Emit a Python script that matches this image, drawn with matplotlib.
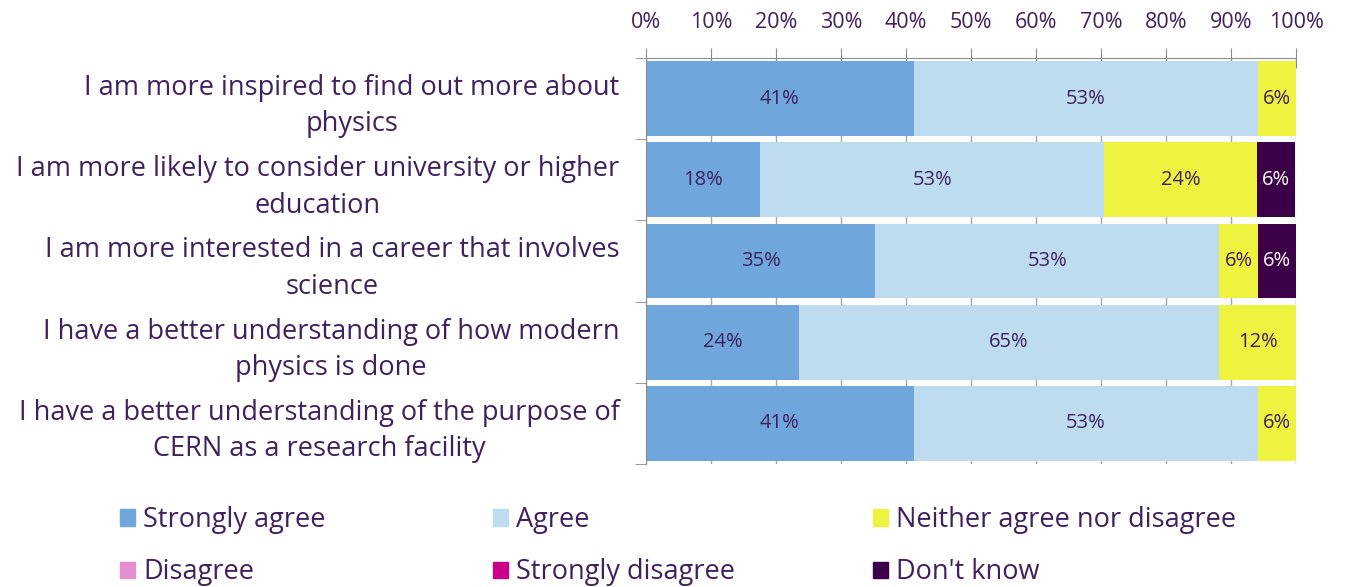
import matplotlib.pyplot as plt
import numpy as np
from matplotlib.patches import Patch

plt.rcParams['font.family'] = ['Open Sans', 'DejaVu Sans']

statements = [
    "I am more inspired to find out more about\nphysics",
    "I am more likely to consider university or higher\neducation",
    "I am more interested in a career that involves\nscience",
    "I have a better understanding of how modern\nphysics is done",
    "I have a better understanding of the purpose of\nCERN as a research facility",
]
series_names = ["Strongly agree", "Agree", "Neither agree nor disagree",
                "Disagree", "Strongly disagree", "Don't know"]
strongly_agree = [41.2, 17.6, 35.3, 23.5, 41.2]
agree = [52.9, 52.9, 52.9, 64.7, 52.9]
neither = [5.9, 23.5, 5.9, 11.8, 5.9]
disagree = [0, 0, 0, 0, 0]
strongly_disagree = [0, 0, 0, 0, 0]
dont_know = [0, 5.9, 5.9, 0, 0]
xticks = [0, 10, 20, 30, 40, 50, 60, 70, 80, 90, 100]

colors = ["#6fa6db", "#bddcf0", "#eef33f", "#e58fd0", "#c8008a", "#3b0048"]
text_col = "#40205e"
series = [strongly_agree, agree, neither, disagree, strongly_disagree, dont_know]

fig = plt.figure(figsize=(13.45, 5.87), dpi=100)
ax = fig.add_axes([646 / 1345, 1 - 464 / 587, 650 / 1345, 406 / 587])

y = np.arange(len(statements))
left = np.zeros(len(statements))
for name, vals, c in zip(series_names, series, colors):
    vals = np.array(vals, dtype=float)
    ax.barh(y, vals, left=left, height=0.92, color=c, zorder=2)
    for yi, (l, v) in enumerate(zip(left, vals)):
        if v > 0:
            tc = "white" if c == "#3b0048" else text_col
            ax.text(l + v / 2, yi, "%.0f%%" % v, ha="center", va="center",
                    fontsize=14.5, color=tc, zorder=3)
    left += vals

ax.set_xlim(0, 100)
ax.set_ylim(len(statements) - 0.5, -0.5)
ax.set_xticks(xticks)
ax.set_xticklabels(["%d%%" % t for t in xticks])
ax.xaxis.tick_top()
ax.tick_params(axis="x", direction="inout", length=14, color="#8c8c8c",
               labelsize=15.5, labelcolor=text_col, pad=11)
ax.grid(axis="x", color="#a6a6a6", lw=1, zorder=1)

ax.set_yticks(y)
ax.set_yticklabels(statements, multialignment="center", linespacing=1.4)
ax.set_yticks(np.arange(len(statements) + 1) - 0.5, minor=True)
ax.tick_params(axis="y", which="major", length=0, pad=19,
               labelsize=19.5, labelcolor=text_col)
ax.tick_params(axis="y", which="minor", length=8, color="#8c8c8c")

for s in ["right", "bottom"]:
    ax.spines[s].set_visible(False)
ax.spines["left"].set_color("#8c8c8c")
ax.spines["top"].set_color("#8c8c8c")

col_x = [120 / 1345, 493 / 1345, 873 / 1345]
for col in range(3):
    handles = []
    for row in range(2):
        i = row * 3 + col
        handles.append(Patch(color=colors[i], label=series_names[i]))
    fig.legend(handles=handles, loc="upper left",
               bbox_to_anchor=(col_x[col], 1 - 506 / 587), frameon=False,
               fontsize=19.5, labelcolor=text_col, handlelength=0.55,
               handleheight=0.55, handletextpad=0.3, labelspacing=0.9,
               borderaxespad=0, borderpad=0)

fig.savefig("out.png", dpi=100)
